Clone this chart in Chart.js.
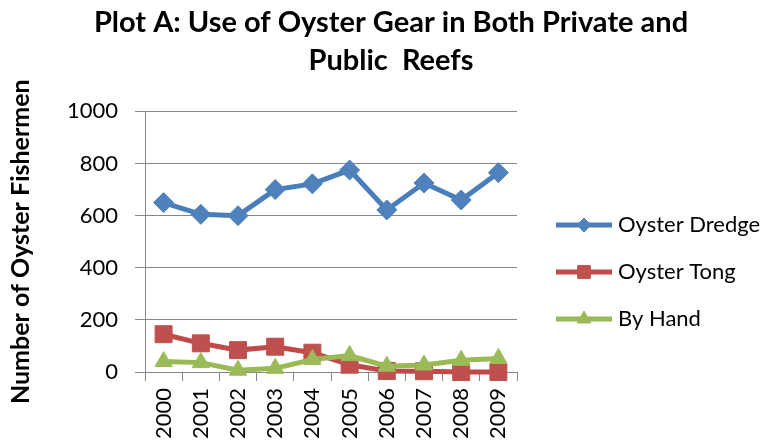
<!DOCTYPE html>
<html>
<head>
<meta charset="utf-8">
<script src="https://cdn.jsdelivr.net/npm/chart.js@4"></script>
<style>
  html, body { margin: 0; padding: 0; background: #fff; }
  #wrap { width: 776px; height: 448px; }
</style>
</head>
<body>
<div id="wrap"><canvas id="chart"></canvas></div>
<script>
/* ── DATA ───────────────────────────────────── */
const years  = ['2000','2001','2002','2003','2004','2005','2006','2007','2008','2009'];
const dredge = [650, 605, 600, 700, 722, 775, 622, 725, 660, 765];
const tong   = [145, 110, 84, 97, 74, 28, 4, 3, 0, 0];
const hand   = [40, 36, 7, 14, 48, 63, 22, 27, 45, 52];
const yMin = 0, yMax = 1000, yStep = 200;

/* ── STYLE ──────────────────────────────────── */
const FONT = "Lato, 'Open Sans', sans-serif";
const gridGray = '#868686';
const series = [
    { label: 'Oyster Dredge', data: dredge, line: '#4A7EBB', fill: '#4F81BD', style: 'rectRot',  r: 10, lr: 7 },
    { label: 'Oyster Tong',   data: tong,   line: '#BE4B48', fill: '#C0504D', style: 'rect',     r: 12, lr: 9 },
    { label: 'By Hand',       data: hand,   line: '#98B954', fill: '#9BBB59', style: 'triangle', r: 10, lr: 8 },
];
const LEGEND_W = 259;   // legend column width, right of the plot

// small line + marker icon for the legend, drawn with Chart.js' own point helper
function legendIcon(s) {
    const c = document.createElement('canvas');
    c.width = 56; c.height = 22;
    const g = c.getContext('2d');
    g.strokeStyle = s.line; g.lineWidth = 5;
    g.beginPath(); g.moveTo(0, 11); g.lineTo(56, 11); g.stroke();
    g.fillStyle = s.fill; g.strokeStyle = s.fill; g.lineWidth = 1;
    Chart.helpers.drawPoint(g, { pointStyle: s.style, rotation: 0, radius: s.lr, borderWidth: 1 }, 28, 11);
    return c;
}

// fixed legend width + nudge it to where the original had it
const legendPlace = {
    id: 'legendPlace',
    beforeUpdate(chart) {
        const lg = chart.legend;
        if (lg && !lg._fixedFit) {
            const fit = lg.fit.bind(lg);
            lg.fit = function () { fit(); this.width = LEGEND_W; };
            lg._fixedFit = true;
        }
    },
    afterLayout(chart) {
        const lg = chart.legend;
        const dx = 561 - (lg.left + lg.options.labels.padding);
        lg.left += dx;
        lg.right = chart.width;
        lg.top += 46; lg.bottom = chart.height + 46;
    }
};

new Chart(document.getElementById('chart'), {
    type: 'line',
    data: {
        labels: years,
        datasets: series.map((s, i) => ({
            label: s.label,
            data: s.data,
            order: 3 - i,
            borderColor: s.line,
            backgroundColor: s.fill,
            borderWidth: 5,
            tension: 0,
            clip: false,
            pointStyle: s.style,
            pointRadius: s.r,
            pointBackgroundColor: s.fill,
            pointBorderColor: s.fill,
            pointBorderWidth: 1,
        }))
    },
    options: {
        responsive: true, maintainAspectRatio: false,
        animation: false,
        layout: { padding: { left: 6, right: 0, top: 4, bottom: 0 } },
        plugins: {
            title: {
                display: true,
                text: ['Plot A: Use of Oyster Gear in Both Private and', 'Public  Reefs'],
                color: '#000',
                font: { family: FONT, size: 29, weight: 'bold', lineHeight: 1.3 },
                padding: { top: 0, bottom: 32 },
            },
            legend: {
                position: 'right',
                labels: {
                    usePointStyle: true,
                    pointStyleWidth: 46,
                    padding: 25,
                    color: '#000',
                    font: { family: FONT, size: 22 },
                    generateLabels: () => series.map((s, i) => ({
                        text: s.label, pointStyle: legendIcon(s),
                        fillStyle: s.fill, strokeStyle: s.line,
                        lineWidth: 0, datasetIndex: i, fontColor: '#000'
                    }))
                }
            },
            tooltip: { enabled: false }
        },
        scales: {
            x: {
                offset: true,
                grid: { offset: true, drawOnChartArea: false, drawTicks: true, tickLength: 9, color: gridGray },
                border: { display: true, color: gridGray, width: 1 },
                ticks: { color: '#000', font: { family: FONT, size: 22 }, minRotation: 90, maxRotation: 90, padding: 7 },
                afterFit: sc => { sc.height = 76; }
            },
            y: {
                min: yMin, max: yMax,
                grid: { color: gridGray, tickLength: 10 },
                border: { display: true, color: gridGray, width: 1 },
                ticks: { stepSize: yStep, color: '#000', font: { family: FONT, size: 22 }, padding: 17,
                         callback: v => String(v) },
                title: {
                    display: true,
                    text: 'Number of Oyster Fishermen',
                    color: '#000',
                    font: { family: FONT, size: 25, weight: 'bold' },
                    padding: { top: 0, bottom: 4 }
                },
                afterFit: sc => { sc.width = 139; }
            }
        }
    },
    plugins: [legendPlace]
});
</script>
</body>
</html>
